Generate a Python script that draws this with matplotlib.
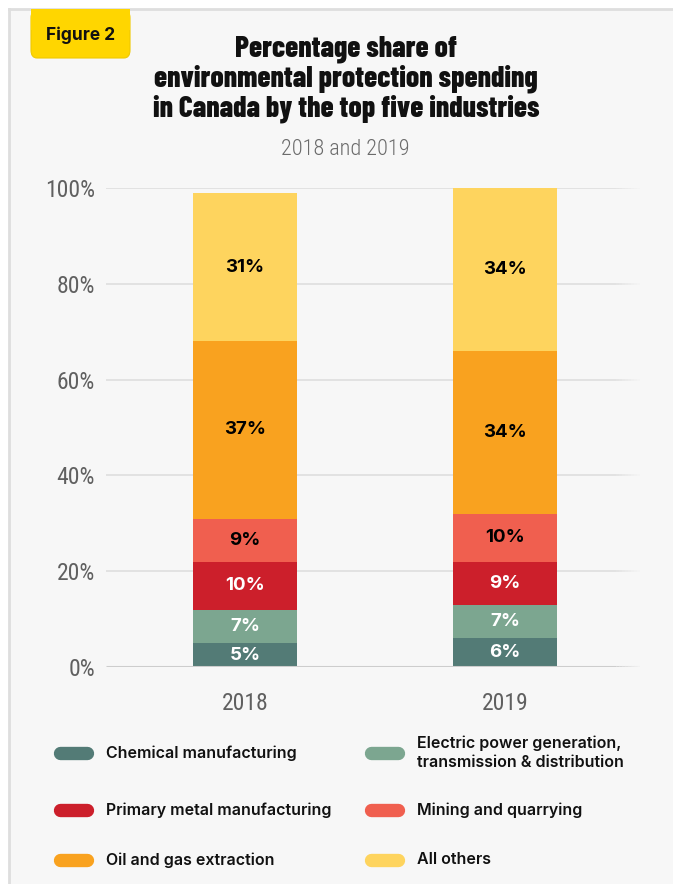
import matplotlib.pyplot as plt
import numpy as np
from matplotlib import font_manager
from matplotlib.patches import FancyBboxPatch, Rectangle

years = ["2018", "2019"]
industries = [
    "Chemical manufacturing",
    "Electric power generation,\ntransmission & distribution",
    "Primary metal manufacturing",
    "Mining and quarrying",
    "Oil and gas extraction",
    "All others",
]
shares_2018 = [5, 7, 10, 9, 37, 31]
shares_2019 = [6, 7, 9, 10, 34, 34]
colors = ["#537b76", "#7ca690", "#cc1f2b", "#f05f4f", "#f9a21f", "#fed45e"]
label_colors = ["white", "white", "white", "black", "black", "black"]
yticks = [0, 20, 40, 60, 80, 100]

weights = {}
for f in font_manager.fontManager.ttflist:
    w = f.weight if isinstance(f.weight, int) else 400
    weights.setdefault(f.name, set()).add(w)


def pick(*families, min_weight=0):
    for fam in families:
        if fam in weights and max(weights[fam]) >= min_weight:
            return [fam, "DejaVu Sans"]
    return None


heading = (pick("Oswald", "Barlow Condensed", "Antonio", "Roboto Condensed",
                "Archivo Narrow", min_weight=700)
           or pick("Fjalla One", "Liberation Sans Narrow") or ["DejaVu Sans"])
narrow = pick("Roboto Condensed", "Barlow Condensed", "Oswald",
              "Liberation Sans Narrow") or ["DejaVu Sans"]
body = pick("Inter", "Roboto") or ["DejaVu Sans"]

W, H = 673, 884
fig = plt.figure(figsize=(W / 100, H / 100), dpi=100)
fig.patch.set_facecolor("white")

# panel background with thin border on top/left
fig.patches.append(Rectangle((9 / W, 0), 1, 1 - 9 / H, transform=fig.transFigure,
                             facecolor="#f7f7f7", edgecolor="none", zorder=-2))
fig.lines.append(plt.Line2D([9 / W, 9 / W], [0, 1 - 9 / H], transform=fig.transFigure,
                            color="#dedede", lw=2, zorder=-1))
fig.lines.append(plt.Line2D([9 / W, 1], [1 - 9 / H, 1 - 9 / H], transform=fig.transFigure,
                            color="#dedede", lw=2, zorder=-1))

# "Figure 2" badge
fig.patches.append(FancyBboxPatch((31 / W, 1 - 58 / H), 99 / W, 48 / H,
                                  boxstyle="round,pad=0,rounding_size=0.009",
                                  transform=fig.transFigure, facecolor="#ffd600",
                                  edgecolor="#efc900", lw=0.8, zorder=2))
fig.patches.append(Rectangle((31 / W, 1 - 30 / H), 99 / W, 21 / H, transform=fig.transFigure,
                             facecolor="#ffd600", edgecolor="none", zorder=2))
fig.text(81 / W, 1 - 35 / H, "Figure 2", ha="center", va="center", fontsize=12.5,
         fontweight="bold", family=body, color="#111111", zorder=3)

fig.text(346 / W, 1 - 79 / H,
         "Percentage share of\nenvironmental protection spending\nin Canada by the top five industries",
         ha="center", va="center", fontsize=21.2, fontweight=800, family=heading,
         color="#111111", linespacing=1.06)
fig.text(345 / W, 1 - 149 / H, "2018 and 2019", ha="center", va="center", fontsize=16,
         fontweight="light", family=narrow, color="#6b6b6b")

ax = fig.add_axes([106 / W, 1 - 667 / H, 534 / W, (667 - 188) / H])
ax.set_facecolor("none")
x = np.arange(len(years))
width = 0.4

# gridlines fade out toward the right edge
trans = ax.get_yaxis_transform()
fade = np.linspace(0.955, 1.0, 9)
for v in yticks:
    col, lw, z = ("#cdcdcd", 2.2, 3) if v == 0 else ("#dcdcdc", 1.1, 0)
    ax.plot([0, fade[0]], [v, v], color=col, lw=lw, transform=trans, zorder=z,
            solid_capstyle="butt")
    for k in range(len(fade) - 1):
        ax.plot(fade[k:k + 2], [v, v], color=col, lw=lw, transform=trans, zorder=z,
                alpha=1 - (k + 1) / len(fade), solid_capstyle="butt")

bottoms = np.zeros(len(years))
for i, name in enumerate(industries):
    vals = np.array([shares_2018[i], shares_2019[i]], dtype=float)
    ax.bar(x, vals, width, bottom=bottoms, color=colors[i], edgecolor="none", zorder=2)
    for xi, v, b in zip(x, vals, bottoms):
        ax.text(xi, b + v / 2, f"{int(v)}%", ha="center", va="center", fontsize=13.5,
                fontweight="bold", family=body, color=label_colors[i], zorder=4)
    bottoms += vals

ax.set_xlim(-0.5346, 1.519)
ax.set_ylim(0, 100)
ax.set_yticks(yticks)
ax.set_yticklabels([f"{t}%" for t in yticks], family=narrow, fontsize=17,
                   color="#606060")
ax.set_xticks(x)
ax.set_xticklabels(years, family=narrow, fontsize=17, color="#606060")
ax.tick_params(axis="y", length=0, pad=8)
ax.tick_params(axis="x", length=0, pad=18)
for s in ax.spines.values():
    s.set_visible(False)

# legend with pill-shaped swatches
legend_pos = [(53, 753), (364, 753), (53, 810), (364, 810), (53, 860), (364, 860)]
for (px, py), name, c in zip(legend_pos, industries, colors):
    fig.lines.append(plt.Line2D([(px + 7) / W, (px + 34) / W], [1 - py / H, 1 - py / H],
                                transform=fig.transFigure, color=c, lw=9.6,
                                solid_capstyle="round"))
    fig.text((px + 53) / W, 1 - py / H, name, ha="left", va="center", fontsize=11.5,
             fontweight="semibold", family=body, color="#111111", linespacing=1.3)

fig.savefig("out.png", dpi=100, facecolor=fig.get_facecolor())
